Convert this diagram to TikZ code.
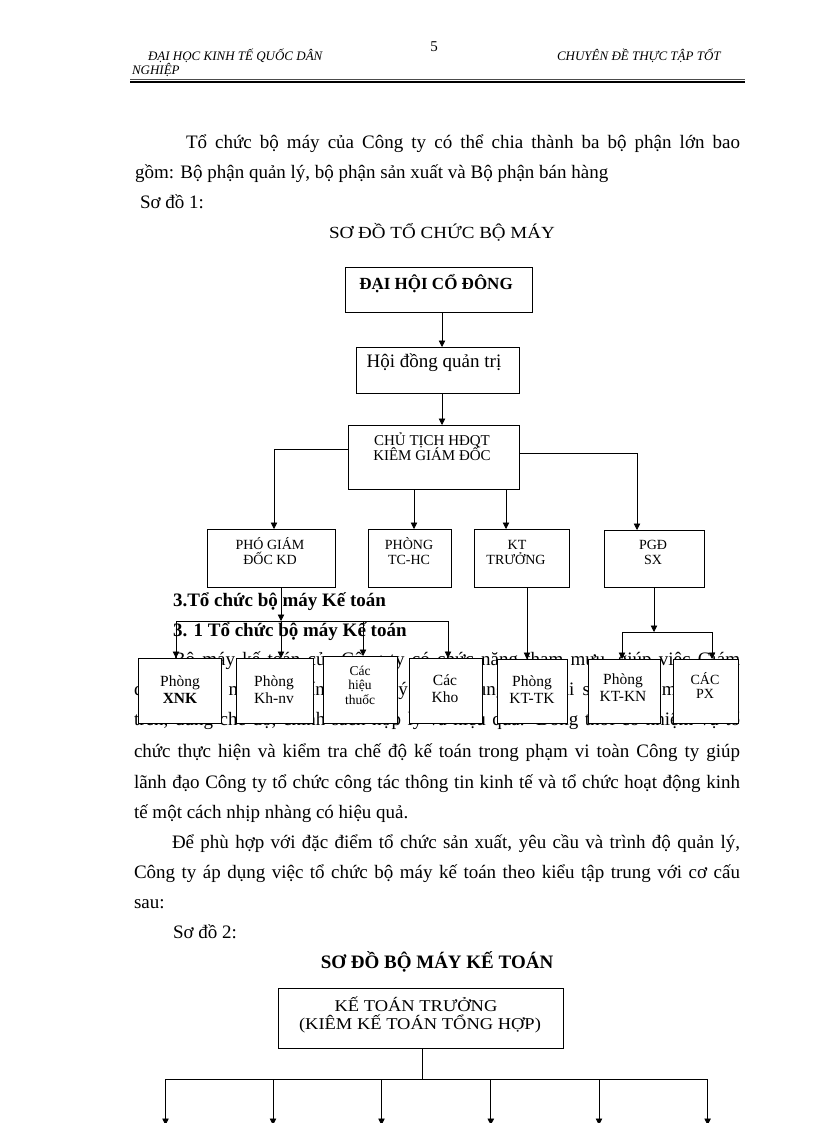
\documentclass[tikz,border=0pt]{standalone}
\usepackage{fontspec}
\setmainfont{Liberation Serif}
\newfontfamily\widefont{Liberation Serif}[FakeStretch=1.12]
\usetikzlibrary{arrows.meta}
\newcommand{\fsz}[1]{\fontsize{#1}{#1}\selectfont}
\newcommand{\jl}[2]{\makebox[#1pt][s]{#2}}
\begin{document}
\begin{tikzpicture}[x=1pt,y=-1pt,
  every node/.style={inner sep=0pt,outer sep=0pt},
  txt/.style={anchor=base west,font=\fsz{19}},
  head/.style={anchor=base west,font=\fsz{13}\itshape},
  ctxt/.style={anchor=base},
  box/.style={draw,fill=white,line width=0.9pt,anchor=north west},
  arr/.style={draw,line width=0.8pt,-{Triangle[length=6.5pt,width=6.5pt]}},
  ln/.style={draw,line width=0.8pt}]
\fill[white] (0,0) rectangle (816,1123);
\useasboundingbox (0,0) rectangle (816,1123);

% ---------- header ----------
\node[head] (h1) at (148,61) {ĐẠI HỌC KINH TẾ QUỐC  DÂN};
\node[head] (h2) at (132,75) {NGHIỆP};
\node[ctxt,font=\fsz{15}] (h3) at (434,52) {5};
\node[head] (h4) at (557,61) {CHUYÊN ĐỀ THỰC  TẬP TỐT};
\coordinate (hl1) at (130,79.3);
\coordinate (hr1) at (745,79.3);
\coordinate (hl2) at (130,82);
\coordinate (hr2) at (745,82);
\draw[line width=0.7pt,black!70] (hl1) -- (hr1);
\draw[line width=2pt] (hl2) -- (hr2);

% ---------- body text ----------
\node[txt] (p1) at (186,149) {\jl{554}{Tổ chức bộ máy  của Công ty có thể chia thành ba bộ phận lớn bao}};
\node[txt] (p2) at (135,179) {gồm: Bộ phận quản lý, bộ phận sản xuất và Bộ phận bán hàng};
\node[txt] (p3) at (140,209) {Sơ đồ 1:};
\node[ctxt,font=\fsz{17}\widefont] (t1) at (442,238) {SƠ ĐỒ TỔ CHỨC BỘ MÁY};

\node[txt,font=\fsz{19}\bfseries] (s3) at (173,606) {3.Tổ chức bộ máy Kế toán};
\node[txt,font=\fsz{19}\bfseries] (s31) at (173,636) {3. 1 Tổ chức bộ máy Kế toán};
\node[txt] (pa) at (173,665) {\jl{567}{Bộ máy kế toán của Công ty có chức năng tham mưu, giúp việc Giám}};
\node[txt] (pb) at (134,695) {\jl{606}{đốc về các mặt tài chính, quản lý và sử dụng vốn, tài sản đúng mục đích,}};
\node[txt] (pc) at (134,725) {\jl{606}{trên, đúng chế độ, chính sách hợp lý và hiệu quả. Đồng thời có nhiệm vụ tổ}};
\node[txt] (pd) at (134,757) {\jl{606}{chức thực hiện và kiểm tra chế độ kế toán trong phạm vi toàn Công ty giúp}};
\node[txt] (pe) at (134,788) {\jl{606}{lãnh đạo Công ty tổ chức công tác thông tin kinh tế và tổ chức hoạt động kinh}};
\node[txt] (pf) at (134,818) {tế một cách nhịp nhàng có hiệu quả.};
\node[txt] (pg2) at (172,848) {\jl{568}{Để phù hợp với đặc điểm tổ chức sản xuất, yêu cầu và trình độ quản lý,}};
\node[txt] (ph) at (134,878) {\jl{606}{Công ty áp dụng việc tổ chức bộ máy kế toán theo kiểu tập trung với cơ cấu}};
\node[txt] (pi) at (134,908) {sau:};
\node[txt] (pj) at (173,938) {Sơ đồ 2:};
\node[ctxt,font=\fsz{19}\bfseries] (t2) at (437,968) {SƠ ĐỒ BỘ MÁY KẾ TOÁN};

% ---------- chart 1 boxes ----------
\node[box,minimum width=187,minimum height=45] (dh) at (345,267) {};
\node[box,minimum width=163,minimum height=46] (hd) at (356,347) {};
\node[box,minimum width=171,minimum height=64] (ct) at (348,425) {};
\node[box,minimum width=128,minimum height=58] (pg) at (207,529) {};
\node[box,minimum width=83,minimum height=58] (tc) at (368,529) {};
\node[box,minimum width=95,minimum height=58] (kt) at (474,529) {};
\node[box,minimum width=100,minimum height=57] (sx) at (604,530) {};

\node[box,minimum width=83,minimum height=65] (xnk) at (138,658) {};
\node[box,minimum width=77,minimum height=65] (khnv) at (236,658) {};
\node[box,minimum width=74,minimum height=67] (hieu) at (323,656) {};
\node[box,minimum width=73,minimum height=65] (kho) at (409,658) {};
\node[box,minimum width=70,minimum height=64] (kttk) at (497,659) {};
\node[box,minimum width=72,minimum height=64] (ktkn) at (588,659) {};
\node[box,minimum width=65,minimum height=64] (px) at (673,659) {};

% box texts
\node[ctxt,font=\fsz{17}\bfseries] (dht) at (436,289) {ĐẠI HỘI CỔ ĐÔNG};
\node[ctxt,font=\fsz{19}] (hdt) at (434,367) {Hội đồng quản trị};
\node[ctxt,font=\fsz{15}] (ct1) at (432,445) {CHỦ TỊCH HĐQT};
\node[ctxt,font=\fsz{15}] (ct2) at (432,460) {KIÊM GIÁM ĐỐC};
\node[ctxt,font=\fsz{14}] (pg1) at (270,549) {PHÓ GIÁM};
\node[ctxt,font=\fsz{14}] (pg3) at (270,564) {ĐỐC KD};
\node[ctxt,font=\fsz{14}] (tc1) at (409,549) {PHÒNG};
\node[ctxt,font=\fsz{14}] (tc2) at (409,564) {TC-HC};
\node[ctxt,font=\fsz{14}] (kt1) at (517,549) {KT};
\node[ctxt,font=\fsz{14}] (kt2) at (516,564) {TRƯỞNG};
\node[ctxt,font=\fsz{14}] (sx1) at (653,549) {PGĐ};
\node[ctxt,font=\fsz{14}] (sx2) at (653,564) {SX};

\node[ctxt,font=\fsz{15.5}] (xnk1) at (180,686) {Phòng};
\node[ctxt,font=\fsz{15.5}\bfseries] (xnk2) at (180,703) {XNK};
\node[ctxt,font=\fsz{15.5}] (kh1) at (274,686) {Phòng};
\node[ctxt,font=\fsz{15.5}] (kh2) at (274,703) {Kh-nv};
\node[ctxt,font=\fsz{13.5}] (hi1) at (360,675) {Các};
\node[ctxt,font=\fsz{13.5}] (hi2) at (360,689) {hiệu};
\node[ctxt,font=\fsz{13.5}] (hi3) at (360,704) {thuốc};
\node[ctxt,font=\fsz{15.5}] (ko1) at (445,685) {Các};
\node[ctxt,font=\fsz{15.5}] (ko2) at (445,702) {Kho};
\node[ctxt,font=\fsz{15.5}] (tk1) at (532,686) {Phòng};
\node[ctxt,font=\fsz{15.5}] (tk2) at (532,703) {KT-TK};
\node[ctxt,font=\fsz{15.5}] (kn1) at (623,684) {Phòng};
\node[ctxt,font=\fsz{15.5}] (kn2) at (623,701) {KT-KN};
\node[ctxt,font=\fsz{14}] (px1) at (705,684) {CÁC};
\node[ctxt,font=\fsz{14}] (px2) at (705,698) {PX};

% ---------- chart 1 connectors ----------
\coordinate (cx) at (442,0);
\draw[arr] (dh.south -| cx) -- (hd.north -| cx);
\draw[arr] (hd.south -| cx) -- (ct.north -| cx);
\coordinate (cl) at (274,449);
\draw[arr] (ct.west |- cl) -- (cl) -- (pg.north -| cl);
\coordinate (cr) at (637,453);
\draw[arr] (ct.east |- cr) -- (cr) -- (sx.north -| cr);
\coordinate (cm1) at (414,0);
\draw[arr] (ct.south -| cm1) -- (tc.north -| cm1);
\coordinate (cm2) at (506,0);
\draw[arr] (ct.south -| cm2) -- (kt.north -| cm2);

\coordinate (j1) at (176,621);
\coordinate (j2) at (281,621);
\coordinate (j3) at (363,621);
\coordinate (j4) at (448,621);
\draw[arr] (pg.south -| j2) -- (j2);
\draw[ln] (j1) -- (j4);
\draw[arr] (j1) -- (xnk.north -| j1);
\draw[arr] (j2) -- (khnv.north -| j2);
\draw[arr] (j3) -- (hieu.north -| j3);
\draw[arr] (j4) -- (kho.north -| j4);

\coordinate (cm3) at (527,0);
\draw[arr] (kt.south -| cm3) -- (kttk.north -| cm3);

\coordinate (sj) at (654,632);
\coordinate (sl) at (622,632);
\coordinate (sr) at (712,632);
\draw[arr] (sx.south -| sj) -- (sj);
\draw[ln] (sl) -- (sr);
\draw[arr] (sl) -- (ktkn.north -| sl);
\draw[arr] (sr) -- (px.north -| sr);

% ---------- chart 2 ----------
\node[box,minimum width=285,minimum height=60] (ktt) at (278,988) {};
\node[ctxt,font=\fsz{16.5}\widefont] (ktt1) at (416,1011) {KẾ TOÁN TRƯỞNG};
\node[ctxt,font=\fsz{16.5}\widefont] (ktt2) at (420,1029) {(KIÊM  KẾ TOÁN TỔNG HỢP)};
\coordinate (kj) at (422,1079);
\draw[ln] (ktt.south -| kj) -- (kj);
\coordinate (k1) at (165.5,1079);
\coordinate (k2) at (273,1079);
\coordinate (k3) at (381.5,1079);
\coordinate (k4) at (490.8,1079);
\coordinate (k5) at (599,1079);
\coordinate (k6) at (707.6,1079);
\draw[ln] (k1) -- (k6);
\foreach \i in {1,...,6} {
  \coordinate (e\i) at ([yshift=-46pt]k\i);
  \draw[arr] (k\i) -- (e\i);
}
\end{tikzpicture}
\end{document}
